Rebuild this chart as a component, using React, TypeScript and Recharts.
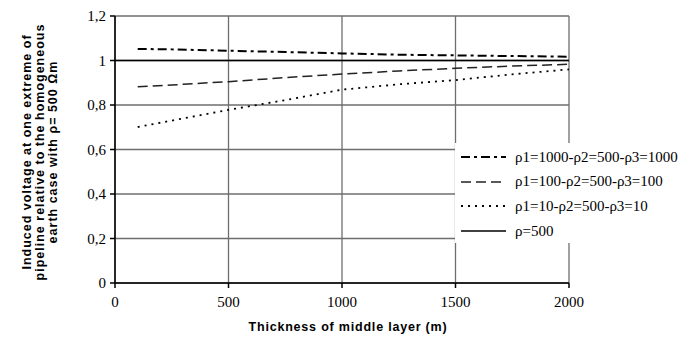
import React from 'react';
import { LineChart, Line, XAxis, YAxis, CartesianGrid, Legend, Label } from 'recharts';

// thickness of the middle layer (m)
const thickness = [0, 100, 250, 500, 750, 1000, 1250, 1500, 1750, 2000];
const rho1000 = [null, 1.052, 1.05, 1.044, 1.038, 1.032, 1.026, 1.023, 1.02, 1.017];
const rho100 = [null, 0.882, 0.89, 0.905, 0.923, 0.939, 0.953, 0.965, 0.975, 0.983];
const rho10 = [null, 0.701, 0.73, 0.778, 0.822, 0.869, 0.893, 0.912, 0.938, 0.96];
const rho500 = [1, 1, 1, 1, 1, 1, 1, 1, 1, 1];

const xTicks = [0, 500, 1000, 1500, 2000];
const yTicks = [0, 0.2, 0.4, 0.6, 0.8, 1, 1.2];
const seriesOrder = ['a', 'b', 'c', 'd'];

const data = thickness.map((t, i) => ({
  t,
  a: rho1000[i],
  b: rho100[i],
  c: rho10[i],
  d: rho500[i],
}));

const serif = "'Liberation Serif', 'Times New Roman', 'DejaVu Serif', serif";
const sans = "'Liberation Sans', Arial, sans-serif";

const YTitle = () => (
  <g style={{ fontFamily: sans }} fontWeight={700} fontSize={12.5} fill="#000" letterSpacing={1}>
    <text x={27} y={152} textAnchor="middle" dominantBaseline="central" transform="rotate(-90, 27, 152)">
      Induced voltage at one extreme of
    </text>
    <text x={40} y={152} textAnchor="middle" dominantBaseline="central" transform="rotate(-90, 40, 152)">
      pipeline relative to the homogeneous
    </text>
    <text x={53} y={152} textAnchor="middle" dominantBaseline="central" transform="rotate(-90, 53, 152)">
      earth case with ρ= 500 Ωm
    </text>
  </g>
);

const XTitle = () => (
  <text x={348} y={327} textAnchor="middle" dominantBaseline="central"
    style={{ fontFamily: sans }} fontWeight={700} fontSize={12.5} letterSpacing={0.8} fill="#000">
    Thickness of middle layer (m)
  </text>
);

const LegendBox = (props: any) => {
  const items = [...(props.payload || [])].sort(
    (p: any, q: any) => seriesOrder.indexOf(p.dataKey) - seriesOrder.indexOf(q.dataKey));
  return (
    <div style={{ background: '#fff', width: 242, height: 100, paddingTop: 2, boxSizing: 'border-box' }}>
      {items.map((it: any) => {
        const p = it.payload || {};
        return (
          <div key={it.value} style={{ display: 'flex', alignItems: 'center', height: 24.6 }}>
            <svg width={60} height={10} style={{ marginLeft: 6 }}>
              <line x1={0} y1={5} x2={45} y2={5} stroke={p.stroke}
                strokeWidth={p.strokeWidth} strokeDasharray={p.strokeDasharray} />
            </svg>
            <span style={{ fontFamily: serif, fontSize: 15, color: '#000', marginLeft: -6 }}>{it.value}</span>
          </div>
        );
      })}
    </div>
  );
};

export default function App() {
  return (
    <div style={{ position: 'absolute', left: 0, top: 0, background: '#fff' }}>
      <LineChart width={697} height={341} data={data}
        margin={{ top: 16, right: 128, left: 0, bottom: 0 }}>
        <CartesianGrid stroke="#6e6e6e" strokeWidth={1.3} />
        <XAxis dataKey="t" type="number" domain={[0, 2000]} ticks={xTicks} height={58}
          stroke="#000" strokeWidth={1.5} tickSize={5} tickMargin={8}
          tick={{ style: { fontFamily: serif }, fontSize: 15, fill: '#000' }}>
          <Label content={() => <XTitle />} />
        </XAxis>
        <YAxis type="number" domain={[0, 1.2]} ticks={yTicks} width={115}
          stroke="#000" strokeWidth={1.5} tickSize={5} tickMargin={4}
          tickFormatter={(v: number) => String(v).replace('.', ',')}
          tick={{ style: { fontFamily: serif }, fontSize: 15, fill: '#000' }}>
          <Label content={() => <YTitle />} />
        </YAxis>
        <Legend layout="horizontal" verticalAlign="middle" align="center"
          content={<LegendBox />}
          wrapperStyle={{ left: 455, top: 143, width: 242, height: 100 }} />
        <Line dataKey="a" name="ρ1=1000-ρ2=500-ρ3=1000" stroke="#000" strokeWidth={2}
          strokeDasharray="9 4 3 4" dot={false} isAnimationActive={false} />
        <Line dataKey="b" name="ρ1=100-ρ2=500-ρ3=100" stroke="#222" strokeWidth={1.5}
          strokeDasharray="10 5" dot={false} isAnimationActive={false} />
        <Line dataKey="c" name="ρ1=10-ρ2=500-ρ3=10" stroke="#000" strokeWidth={1.8}
          strokeDasharray="2 5" dot={false} isAnimationActive={false} />
        <Line dataKey="d" name="ρ=500" stroke="#000" strokeWidth={1.6}
          dot={false} isAnimationActive={false} />
      </LineChart>
    </div>
  );
}
